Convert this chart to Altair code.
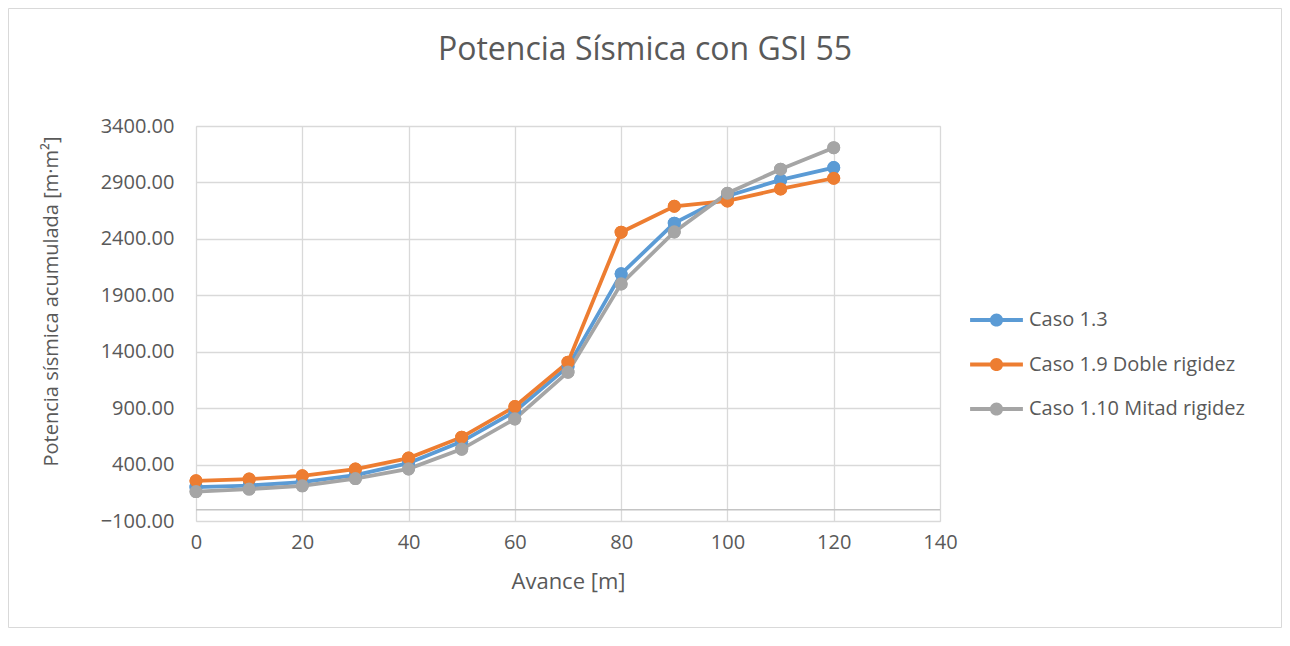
import altair as alt
import pandas as pd

avance = [0, 10, 20, 30, 40, 50, 60, 70, 80, 90, 100, 110, 120]
caso_13 = [200, 214, 245, 307, 413, 604, 870, 1268, 2090, 2539, 2780, 2922, 3031]
caso_19 = [256, 271, 300, 360, 457, 643, 914, 1307, 2459, 2689, 2736, 2842, 2937]
caso_110 = [161, 183, 212, 276, 362, 537, 805, 1219, 2001, 2462, 2804, 3017, 3208]

series_names = ["Caso 1.3", "Caso 1.9 Doble rigidez", "Caso 1.10 Mitad rigidez"]
series_colors = ["#5B9BD5", "#ED7D31", "#A5A5A5"]
y_ticks = [-100, 400, 900, 1400, 1900, 2400, 2900, 3400]
x_ticks = [0, 20, 40, 60, 80, 100, 120, 140]

rows = []
for name, vals in zip(series_names, [caso_13, caso_19, caso_110]):
    for i, (a, v) in enumerate(zip(avance, vals)):
        rows.append({"serie": name, "avance": a, "potencia": v, "orden": i})
df = pd.DataFrame(rows)

FONT = "Open Sans"
TXT = "#595959"
W, H = 744, 395
PL, PT = 188, 118
TOTAL_W, TOTAL_H = 1274, 620

x_enc = alt.X("avance:Q",
              scale=alt.Scale(domain=[0, 140], nice=False),
              axis=alt.Axis(values=x_ticks, title="Avance [m]", domain=False, ticks=False,
                            tickSize=0, labelPadding=21, labelBaseline="middle", labelFlush=False,
                            labelFontSize=20, labelColor=TXT, labelFont=FONT,
                            titleFontSize=22, titleColor=TXT, titleFont=FONT,
                            titleFontWeight="normal", titleBaseline="alphabetic", titleY=67,
                            gridColor="#d9d9d9", gridWidth=1.3))
y_enc = alt.Y("potencia:Q",
              scale=alt.Scale(domain=[-100, 3400], nice=False, zero=False),
              axis=alt.Axis(values=y_ticks, format=".2f", title="Potencia sísmica acumulada [m·m²]",
                            domain=False, ticks=False, tickSize=0, labelPadding=22,
                            labelFontSize=20, labelColor=TXT, labelFont=FONT,
                            titleFontSize=20, titleColor=TXT, titleFont=FONT,
                            titleFontWeight="normal", titleAngle=270, titleAlign="center",
                            titleBaseline="middle", titleX=-145, titleY=175,
                            gridColor="#d9d9d9", gridWidth=1.3))

color_scale = alt.Scale(domain=series_names, range=series_colors)

SYMBOL = "M-2.2,-0.16H2.2V0.16H-2.2Z M0.55,0A0.55,0.55,0,1,1,-0.55,0A0.55,0.55,0,1,1,0.55,0Z"

base = alt.Chart(df)

points_legend = base.mark_point(filled=True, size=170, opacity=1).encode(
    x=x_enc, y=y_enc,
    color=alt.Color("serie:N", scale=color_scale,
                    legend=alt.Legend(title=None, orient="none", legendX=788.5, legendY=182,
                                      symbolType=SYMBOL, symbolSize=576, symbolStrokeWidth=0,
                                      symbolOpacity=1, labelOffset=20.5, rowPadding=22.5,
                                      labelFontSize=20, labelColor=TXT, labelFont=FONT,
                                      labelLimit=0, padding=0)),
)

lines = base.mark_line(strokeWidth=3.8).encode(
    x="avance:Q", y="potencia:Q",
    color=alt.Color("serie:N", scale=color_scale),
    order="orden:Q",
)

points_top = base.mark_point(filled=True, size=170, opacity=1).encode(
    x="avance:Q", y="potencia:Q",
    color=alt.Color("serie:N", scale=color_scale),
)

zero_rule = alt.Chart(pd.DataFrame({"z": [0]})).mark_rule(color="#c4c4c4", strokeWidth=1.5).encode(
    y=alt.Y("z:Q")
)

border = alt.Chart(pd.DataFrame({"z": [0]})).mark_rect(fill=None, stroke="#d9d9d9", strokeWidth=1).encode(
    x=alt.value(-PL + 0.5), x2=alt.value(TOTAL_W - PL - 0.5),
    y=alt.value(-PT + 0.5), y2=alt.value(TOTAL_H - PT - 0.5),
)

chart = alt.layer(border, zero_rule, points_legend, lines, points_top).properties(
    width=W, height=H,
    title=alt.TitleParams("Potencia Sísmica con GSI 55", fontSize=32, color=TXT, font=FONT,
                          fontWeight="normal", anchor="middle", dx=77, offset=0, dy=84,
                          baseline="alphabetic"),
    autosize=alt.AutoSizeParams(type="none"),
    padding={"left": PL, "top": PT, "right": TOTAL_W - PL - W, "bottom": TOTAL_H - PT - H},
).configure_view(stroke=None).configure(background="white")

chart.save("out.html", embed_options={"renderer": "svg", "actions": False})
